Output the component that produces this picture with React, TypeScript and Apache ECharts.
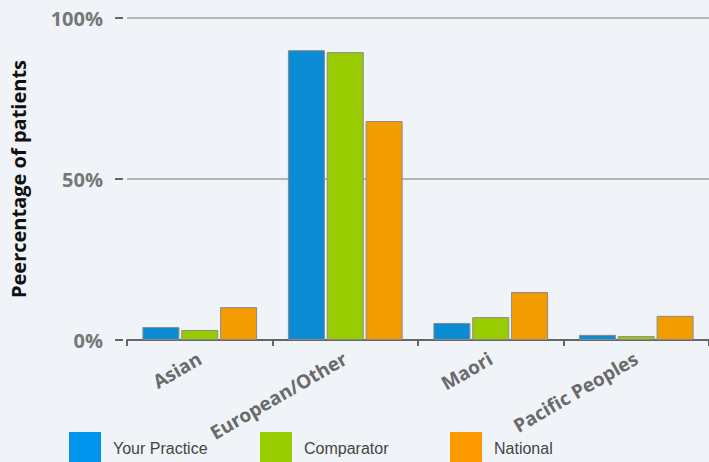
import React, { useEffect, useRef } from "react";
import * as echarts from "echarts";

const categories = ["Asian", "European/Other", "Maori", "Pacific Peoples"];
const yourPractice = [4.0, 90.0, 5.3, 1.6];
const comparator = [3.1, 89.4, 7.1, 1.2];
const national = [10.2, 68.0, 14.9, 7.5];
const seriesNames = ["Your Practice", "Comparator", "National"];
const yTicks = [0, 50, 100];

export default function App() {
  const ref = useRef<HTMLDivElement>(null);
  useEffect(() => {
    if (!ref.current) return;
    const chart = echarts.init(ref.current, undefined, { renderer: "svg" });
    const barColors = ["#0a8bd3", "#99cc00", "#f39c00"];
    const legendColors = ["#0094ec", "#99cc00", "#ff9900"];
    const data = [yourPractice, comparator, national];
    const legendLefts = [69, 260, 450];
    chart.setOption({
      animation: false,
      backgroundColor: "#f0f4f9",
      grid: { left: 127, right: 0, top: 18, bottom: 122, containLabel: false },
      legend: seriesNames.map((n, i) => ({
        data: [{ name: n, itemStyle: { color: legendColors[i], borderWidth: 0 } }],
        left: legendLefts[i],
        top: 432,
        padding: 0,
        itemWidth: 32,
        itemHeight: 32,
        itemGap: 0,
        icon: "rect",
        selectedMode: false,
        textStyle: { fontFamily: "Liberation Sans", fontSize: 16, color: "#444", padding: [14, 0, 0, 7] },
      })),
      xAxis: {
        type: "category",
        data: categories,
        axisLine: { lineStyle: { color: "#666", width: 2 } },
        axisTick: { show: true, length: 6, lineStyle: { color: "#666", width: 2 }, alignWithLabel: false },
        axisLabel: {
          rotate: 30,
          margin: 17,
          fontFamily: "Open Sans",
          fontWeight: "bold",
          fontSize: 19,
          color: "#6a6a6a",
        },
      },
      yAxis: {
        type: "value",
        min: 0,
        max: 100,
        interval: 50,
        offset: 4,
        name: "Peercentage of patients",
        nameLocation: "middle",
        nameGap: 95,
        nameRotate: 90,
        nameTextStyle: { fontFamily: "Open Sans", fontWeight: "bold", fontSize: 20, color: "#111" },
        axisLine: { show: false },
        axisTick: { show: true, length: 8, lineStyle: { color: "#666", width: 2 } },
        axisLabel: {
          margin: 20,
          fontFamily: "Open Sans",
          fontWeight: "bold",
          fontSize: 20,
          color: "#777",
          formatter: (v: number) => (yTicks.includes(v) ? v + "%" : ""),
        },
        splitLine: { show: true, lineStyle: { color: "#b4b4b4", width: 2 } },
      },
      series: seriesNames.map((n, i) => ({
        name: n,
        type: "bar",
        data: data[i],
        barWidth: 37,
        barGap: "5%",
        itemStyle: { color: barColors[i], borderColor: "#8a8a8a", borderWidth: 1 },
      })),
    });
    return () => chart.dispose();
  }, []);
  return (
    <div
      ref={ref}
      style={{ position: "fixed", left: 0, top: 0, width: 709, height: 462 }}
    />
  );
}
